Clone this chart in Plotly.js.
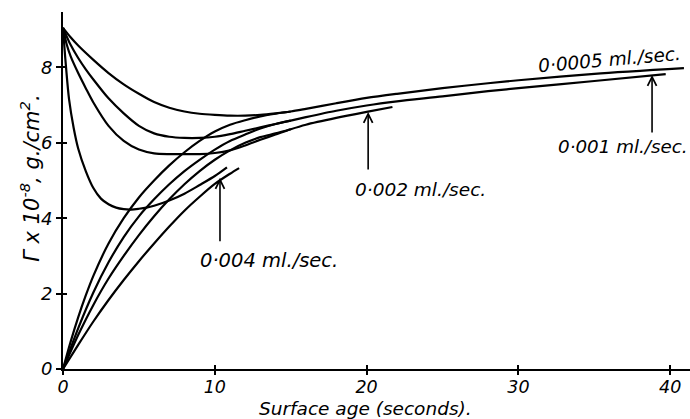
<!DOCTYPE html>
<html><head><meta charset="utf-8">
<script src="https://cdn.plot.ly/plotly-3.0.1.min.js"></script>
<style>html,body{margin:0;padding:0;background:#fff}#plot{width:690px;height:419px}</style>
</head><body><div id="plot"></div>
<script>
// 0.0005 ml/sec, falling branch (continues as the merged line)
const d1x = [0,0.5,1,2,3,4,5,6,7,8,9,10,11,12,13,14,15,16,18,20,22,25,28,30,35,40.9];
const d1y = [9.05,8.8,8.58,8.2,7.85,7.55,7.3,7.08,6.93,6.83,6.77,6.74,6.72,6.72,6.74,6.78,6.83,6.9,7.05,7.19,7.3,7.45,7.58,7.66,7.83,7.98];
// 0.001 ml/sec, falling branch
const d2x = [0,0.5,1,1.5,2,3,4,5,6,7,8,9,10,11,12,13,14,15,16,18,20,22,25,28,30,35,39.7];
const d2y = [9.05,8.6,8.25,7.95,7.68,7.18,6.78,6.45,6.25,6.16,6.13,6.13,6.16,6.23,6.32,6.41,6.5,6.59,6.68,6.85,6.99,7.1,7.23,7.37,7.45,7.64,7.82];
// 0.002 ml/sec, falling branch
const d3x = [0,0.25,0.5,1,1.5,2,3,4,5,6,7,8,9,10,11,12,13,14,15,16,18,20,21.7];
const d3y = [9.05,8.6,8.3,7.85,7.45,7.07,6.45,6.05,5.82,5.72,5.7,5.7,5.7,5.73,5.8,5.93,6.08,6.22,6.36,6.48,6.66,6.82,6.95];
// 0.004 ml/sec, falling branch
const d4x = [0,0.1,0.2,0.4,0.7,1,1.5,2,2.5,3,3.5,4,4.5,5,5.5,6,7,8,9,10,10.8];
const d4y = [9.05,8.5,8.0,7.15,6.4,5.85,5.25,4.8,4.52,4.37,4.28,4.24,4.23,4.25,4.28,4.33,4.47,4.65,4.88,5.12,5.35];
// rising branches
const a1x = [0,0.5,1,1.5,2,3,4,5,6,7,8,9,10,11,12,13,14,15];
const a1y = [0,0.72,1.37,1.95,2.47,3.33,4.0,4.55,5.0,5.4,5.75,6.05,6.3,6.48,6.6,6.7,6.77,6.83];
const a2x = [0,1,2,3,4,5,6,7,8,9,10,11,12,13,14,15];
const a2y = [0,1.08,2.03,2.83,3.5,4.05,4.5,4.9,5.25,5.55,5.82,6.05,6.22,6.38,6.5,6.59];
const a3x = [0,1,2,3,4,5,6,7,8,9,10,11,12,13,14,15];
const a3y = [0,0.9,1.7,2.4,3.0,3.55,4.05,4.5,4.9,5.25,5.55,5.8,6.0,6.15,6.25,6.36];
const a4x = [0,1,2,3,4,5,6,7,8,9,10,11,11.6];
const a4y = [0,0.64,1.26,1.83,2.36,2.86,3.33,3.78,4.2,4.57,4.91,5.18,5.33];

const xTicks = [0,10,20,30,40];
const yTicks = [0,2,4,6,8];
const rateLabels = ['0·0005 ml./sec.','0·001 ml./sec.','0·002 ml./sec.','0·004 ml./sec.'];

const series = [[d1x,d1y],[d2x,d2y],[d3x,d3y],[d4x,d4y],[a1x,a1y],[a2x,a2y],[a3x,a3y],[a4x,a4y]];
const traces = series.map(([x,y]) => ({
  x, y, type:'scatter', mode:'lines',
  line:{color:'#000', width:2.2, shape:'spline', smoothing:0.8},
  hoverinfo:'skip', showlegend:false, cliponaxis:false
}));
// invisible trace to carry the overlaid tick axes (crossing tick marks)
traces.push({x:[xTicks[0]], y:[yTicks[0]], xaxis:'x2', yaxis:'y2', mode:'none', type:'scatter', hoverinfo:'skip', showlegend:false});

const F = 'DejaVu Sans, sans-serif';
const f = (s) => ({family:F, size:s, color:'#000', style:'italic'});

const arrow = {xref:'x', yref:'y', ax:0, text:'', showarrow:true, arrowhead:5, arrowsize:1.1, arrowwidth:1.6, arrowcolor:'#000'};
const annotations = [
  {x:36.0, y:8.2, xref:'x', yref:'y', text:rateLabels[0], showarrow:false, xanchor:'center', yanchor:'middle', textangle:-5, font:f(18.5)},
  {x:32.5, y:5.89, xref:'x', yref:'y', text:rateLabels[1], showarrow:false, xanchor:'left', yanchor:'middle', font:f(18.3)},
  {x:19.1, y:4.77, xref:'x', yref:'y', text:rateLabels[2], showarrow:false, xanchor:'left', yanchor:'middle', font:f(18.5)},
  {x:8.9, y:2.89, xref:'x', yref:'y', text:rateLabels[3], showarrow:false, xanchor:'left', yanchor:'middle', font:f(19.5)},
  Object.assign({x:10.34, y:5.07, ay:65}, arrow),
  Object.assign({x:20.1, y:6.82, ay:59}, arrow),
  Object.assign({x:38.8, y:7.8, ay:59}, arrow),
  {x:0.482, y:-0.112, xref:'paper', yref:'paper', text:'Surface age (seconds).', showarrow:false, xanchor:'center', yanchor:'middle', font:f(18.5)},
  {x:-0.053, y:0.535, xref:'paper', yref:'paper', text:'Γ x 10<sup>-8</sup>, g./cm<sup>2</sup>.', showarrow:false, xanchor:'center', yanchor:'middle', textangle:-90, font:f(21)}
];

const axBase = {showgrid:false, zeroline:false, fixedrange:true, linecolor:'#000', linewidth:2, tickwidth:2, tickcolor:'#000'};
const layout = {
  width:690, height:419,
  margin:{l:63, r:0, t:12, b:50},
  paper_bgcolor:'#fff', plot_bgcolor:'rgba(0,0,0,0)',
  showlegend:false,
  xaxis:Object.assign({range:[0,41.3], tickvals:xTicks, ticktext:xTicks.map(String), showline:true,
         ticks:'outside', ticklen:4, tickfont:f(17.5), ticklabelstandoff:-3}, axBase),
  yaxis:Object.assign({range:[0,9.47], tickvals:yTicks, ticktext:yTicks.map(String), showline:true,
         ticks:'outside', ticklen:5, tickfont:f(18)}, axBase),
  xaxis2:Object.assign({range:[0,41.3], tickvals:xTicks, showticklabels:false, showline:false,
         ticks:'inside', ticklen:4, overlaying:'x', anchor:'y2', side:'bottom'}, axBase),
  yaxis2:Object.assign({range:[0,9.47], tickvals:yTicks, showticklabels:false, showline:false,
         ticks:'inside', ticklen:4, overlaying:'y', anchor:'x2', side:'left'}, axBase),
  annotations
};

Plotly.newPlot('plot', traces, layout, {staticPlot:true, displayModeBar:false});
</script>
</body></html>
